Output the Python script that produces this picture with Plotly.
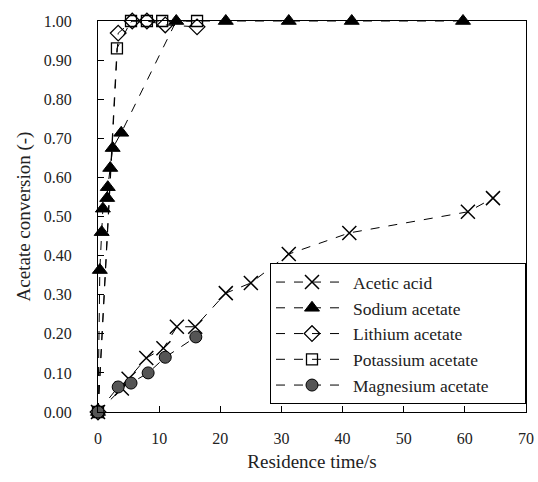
import plotly.graph_objects as go

acetic_t = [0, 3.9, 5.0, 7.9, 10.7, 12.9, 15.9, 20.9, 25.0, 31.2, 41.1, 60.5, 64.6]
acetic_v = [0, 0.06, 0.085, 0.138, 0.163, 0.218, 0.218, 0.304, 0.33, 0.404, 0.458, 0.512, 0.547]

sodium_t = [0, 0.3, 0.6, 0.8, 1.5, 1.6, 2.0, 2.4, 3.8, 12.8, 20.9, 31.2, 41.5, 59.7]
sodium_v = [0, 0.363, 0.46, 0.52, 0.547, 0.575, 0.624, 0.675, 0.714, 1.0, 1.0, 1.0, 1.0, 1.0]

lithium_t = [0, 3.3, 5.6, 8.0, 11.0, 16.2]
lithium_v = [0, 0.969, 1.0, 1.0, 0.99, 0.985]

potassium_t = [0, 3.1, 5.4, 8.0, 10.5, 16.2]
potassium_v = [0, 0.93, 1.0, 1.0, 1.0, 1.0]

magnesium_t = [0, 3.3, 5.4, 8.2, 11.0, 16.0]
magnesium_v = [0, 0.064, 0.074, 0.1, 0.14, 0.192]

x_ticks = [0, 10, 20, 30, 40, 50, 60, 70]
y_ticks = [0, 0.1, 0.2, 0.3, 0.4, 0.5, 0.6, 0.7, 0.8, 0.9, 1.0]

FONT = "Times New Roman, Liberation Serif, DejaVu Serif, serif"
line = dict(color="black", width=1, dash="dash")
PAD = "\u00a0" * 7

fig = go.Figure()
fig.add_trace(go.Scatter(x=acetic_t, y=acetic_v, mode="lines+markers", name="Acetic acid",
                         line=line, marker=dict(symbol="x-thin-open", size=14, color="black",
                                                line=dict(color="black", width=1.5))))
fig.add_trace(go.Scatter(x=sodium_t, y=sodium_v, mode="lines+markers", name="Sodium acetate",
                         line=line, marker=dict(symbol="triangle-up", size=13, color="black",
                                                line=dict(color="black", width=1))))
fig.add_trace(go.Scatter(x=lithium_t, y=lithium_v, mode="lines+markers", name="Lithium acetate",
                         line=line, marker=dict(symbol="diamond-open", size=12, color="black",
                                                line=dict(color="black", width=1.3))))
fig.add_trace(go.Scatter(x=potassium_t, y=potassium_v, mode="lines+markers", name="Potassium acetate",
                         line=line, marker=dict(symbol="square-open", size=11, color="black",
                                                line=dict(color="black", width=1.3))))
fig.add_trace(go.Scatter(x=magnesium_t, y=magnesium_v, mode="lines+markers", name="Magnesium acetate" + PAD,
                         line=line, marker=dict(symbol="circle", size=12, color="#555555",
                                                line=dict(color="black", width=1))))
fig.update_traces(cliponaxis=False)

fig.update_layout(
    width=538, height=482,
    margin=dict(l=98, r=12, t=21, b=70, autoexpand=False),
    paper_bgcolor="white", plot_bgcolor="white",
    font=dict(family=FONT, size=16, color="#222222"),
    showlegend=True,
    legend=dict(x=1, y=0.02, xanchor="right", yanchor="bottom",
                bordercolor="black", borderwidth=1, bgcolor="white",
                font=dict(family=FONT, size=17.5, color="#222222"),
                itemwidth=72, tracegroupgap=0),
)
fig.update_xaxes(range=[0, 70], tickvals=x_ticks, ticktext=[str(v) for v in x_ticks],
                 showline=True, linecolor="black", linewidth=1, mirror=True,
                 ticks="inside", ticklen=6, tickcolor="black", showgrid=False, zeroline=False,
                 ticklabelstandoff=12, automargin=False,
                 title=dict(text="Residence time/s", font=dict(family=FONT, size=19), standoff=8))
fig.update_yaxes(range=[0, 1.0], tickvals=y_ticks, ticktext=[f"{v:.2f}" for v in y_ticks],
                 showline=True, linecolor="black", linewidth=1, mirror=True,
                 ticks="inside", ticklen=6, tickcolor="black", showgrid=False, zeroline=False,
                 ticklabelstandoff=22, automargin=False,
                 title=dict(text="Acetate conversion (-)", font=dict(family=FONT, size=19), standoff=8))

fig.write_html("out.html", config={"displayModeBar": False},
               post_script="document.body.style.margin='0';document.body.style.padding='0';")
